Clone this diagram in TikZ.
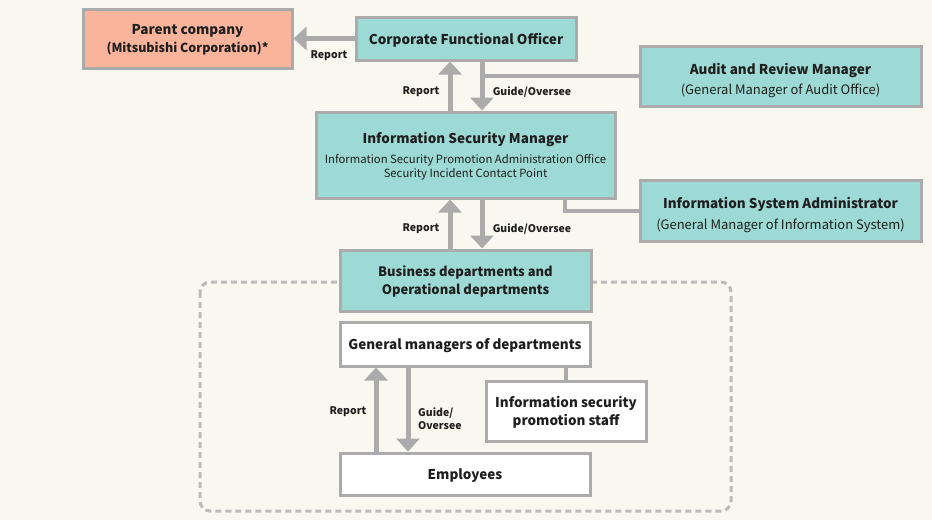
\documentclass[tikz,border=0pt]{standalone}
\usepackage{fontspec}
\setmainfont{Noto Sans CJK JP}
\usetikzlibrary{arrows.meta,calc}
\definecolor{bg}{HTML}{F9F8F0}
\definecolor{tealf}{HTML}{9DD9D5}
\definecolor{salmon}{HTML}{F9B49B}
\definecolor{gr}{HTML}{ABABAB}
\definecolor{dashc}{HTML}{BBBBBB}
\definecolor{tx}{HTML}{1E1E1E}
\begin{document}
\begin{tikzpicture}[x=1pt,y=-1pt,
  box/.style={draw=gr, line width=3pt, inner sep=0pt, align=center, text=tx, text depth=0pt},
  tbox/.style={box, fill=tealf},
  wbox/.style={box, fill=white},
  arr/.style={draw=gr, line width=5pt, -{Triangle[width=23pt,length=13pt]}},
  conn/.style={draw=gr, line width=4pt},
  lbl/.style={font=\bfseries\fontsize{10.5}{13}\selectfont, text=tx, inner sep=0pt},
  ttl/.style={font=\bfseries\fontsize{13.5}{18}\selectfont}
]
\fill[bg] (0,0) rectangle (932,520);
\draw[dashc, line width=3pt, dash pattern=on 6pt off 4pt, rounded corners=10pt] (200,282) rectangle (731,511);

\node[box, fill=salmon, minimum width=209, minimum height=59] (parent) at (187.5,38.5)
  {{\bfseries\fontsize{13.5}{18}\selectfont Parent company}\\[3pt]{\bfseries\fontsize{12.5}{15}\selectfont (Mitsubishi Corporation)*}};
\node[tbox, minimum width=220, minimum height=43, ttl] (cfo) at (466,38.5) {Corporate Functional Officer};
\node[tbox, minimum width=281, minimum height=60] (audit) at (780.5,76)
  {\rule{0pt}{17pt}{\bfseries\fontsize{13.5}{18}\selectfont Audit and Review Manager}\\[5pt]{\fontsize{13}{15}\selectfont (General Manager of Audit Office)}};
\node[tbox, minimum width=299, minimum height=86, font=\fontsize{11.3}{14}\selectfont] (ism) at (465.5,155)
  {{\bfseries\fontsize{13.5}{18}\selectfont Information Security Manager}\\[6pt]Information Security Promotion Administration Office\\Security Incident Contact Point};
\node[tbox, minimum width=281, minimum height=61] (isa) at (780.5,210.5)
  {\rule{0pt}{17pt}{\bfseries\fontsize{13.5}{18}\selectfont Information System Administrator}\\[7pt]{\fontsize{13}{15}\selectfont (General Manager of Information System)}};
\node[tbox, minimum width=251, minimum height=61, font=\bfseries\fontsize{13}{18}\selectfont] (bus) at (465.5,280.5)
  {Business departments and\\Operational departments};
\node[wbox, minimum width=250, minimum height=44, ttl] (gm) at (465,344) {General managers of departments};
\node[wbox, minimum width=160, minimum height=60, font=\bfseries\fontsize{13.5}{18}\selectfont] (staff) at (566,411) {Information security\\promotion staff};
\node[wbox, minimum width=250, minimum height=42, ttl] (emp) at (465,474) {Employees};

\coordinate (c1) at (450,0);
\coordinate (c2) at (482,0);
\coordinate (c3) at (565,0);
\coordinate (c4) at (376,0);
\coordinate (c5) at (408,0);

\draw[arr] (cfo.west) -- (parent.east |- cfo.west);
\draw[arr] (ism.north -| c1) -- (cfo.south -| c1);
\draw[arr] (cfo.south -| c2) -- (ism.north -| c2);
\draw[conn] (audit.west) -- (audit.west -| c2);
\draw[conn] (ism.south -| c3) |- (isa.west);
\draw[arr] (bus.north -| c1) -- (ism.south -| c1);
\draw[arr] (ism.south -| c2) -- (bus.north -| c2);
\draw[arr] (emp.north -| c4) -- (gm.south -| c4);
\draw[arr] (gm.south -| c5) -- (emp.north -| c5);
\draw[conn] (staff.north) -- (gm.south -| staff.north);

\node[lbl] (l1) at (329,56) {Report};
\node[lbl] (l2) at (421,92) {Report};
\node[lbl] (l3) at (532,92) {Guide/Oversee};
\node[lbl] (l4) at (421,229) {Report};
\node[lbl] (l5) at (532,229) {Guide/Oversee};
\node[lbl] (l6) at (348,412) {Report};
\node[lbl, align=left, anchor=west] (l7) at (418,419) {Guide/\\Oversee};
\end{tikzpicture}
\end{document}
